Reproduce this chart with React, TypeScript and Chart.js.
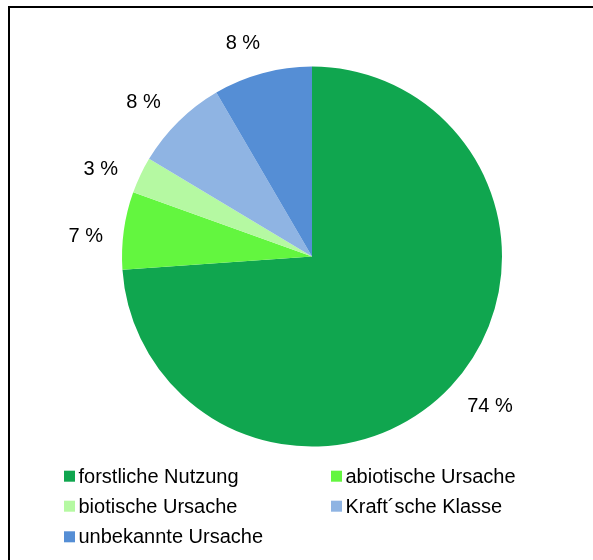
import React, { useEffect, useRef } from "react";
import { Chart, registerables } from "chart.js";

Chart.register(...registerables);

const categories = [
  "forstliche Nutzung",
  "abiotische Ursache",
  "biotische Ursache",
  "Kraft´sche Klasse",
  "unbekannte Ursache",
];
const shares = [73.9, 6.6, 3.1, 8.0, 8.4];
const colors = ["#10A64F", "#63F63F", "#B5F9A2", "#8FB4E3", "#558ED5"];

const FONT = '20px "Liberation Sans", Arial, sans-serif';

const sliceLabels = {
  id: "sliceLabels",
  afterDatasetsDraw(chart: any) {
    const ctx = chart.ctx;
    const meta = chart.getDatasetMeta(0);
    const data = chart.data.datasets[0].data as number[];
    ctx.save();
    ctx.font = FONT;
    ctx.fillStyle = "#000";
    ctx.textAlign = "center";
    ctx.textBaseline = "middle";
    meta.data.forEach((arc: any, i: number) => {
      const p = arc.getProps(["x", "y", "startAngle", "endAngle", "outerRadius"], true);
      const mid = (p.startAngle + p.endAngle) / 2 - 0.05;
      const dx = Math.cos(mid);
      const dy = Math.sin(mid);
      const text = `${Math.round(data[i])} %`;
      const w = ctx.measureText(text).width;
      const h = 20;
      const gap = 19;
      const d = p.outerRadius + gap + (Math.abs(dx) * w) / 2 + (Math.abs(dy) * h) / 2;
      ctx.fillText(text, p.x + dx * d, p.y + dy * d);
    });
    ctx.restore();
  },
};

const gridLegend = {
  id: "gridLegend",
  afterDraw(chart: any) {
    const ctx = chart.ctx;
    const cols = [64, 331];
    const baselines = [482.7, 512.7, 543.3];
    ctx.save();
    ctx.font = FONT;
    ctx.textAlign = "left";
    ctx.textBaseline = "alphabetic";
    categories.forEach((label, i) => {
      const col = i % 2;
      const row = Math.floor(i / 2);
      const x = cols[col];
      const base = baselines[row];
      ctx.fillStyle = colors[i];
      ctx.fillRect(x, base - 12, 11, 11);
      ctx.fillStyle = "#000";
      ctx.fillText(label, x + 14.5, base);
    });
    // frame: top and left edges only
    ctx.fillStyle = "#000";
    ctx.fillRect(8, 6, 585, 2);
    ctx.fillRect(8, 6, 2, 554);
    ctx.restore();
  },
};

export default function App() {
  const ref = useRef<HTMLCanvasElement | null>(null);
  useEffect(() => {
    document.body.style.margin = "0";
    document.body.style.overflow = "hidden";
    document.documentElement.style.overflow = "hidden";
    const canvas = ref.current;
    if (!canvas) return;
    const chart = new Chart(canvas, {
      type: "pie",
      data: {
        labels: categories,
        datasets: [
          {
            data: shares,
            backgroundColor: colors,
            borderWidth: 0,
          },
        ],
      },
      options: {
        animation: false,
        responsive: false,
        maintainAspectRatio: false,
        layout: { padding: { top: 66.6, bottom: 113.4, left: 31, right: 0 } },
        plugins: {
          legend: { display: false },
          tooltip: { enabled: false },
        },
      },
      plugins: [sliceLabels, gridLegend],
    });
    return () => chart.destroy();
  }, []);
  return (
    <div style={{ width: 593, height: 560, overflow: "hidden", background: "#fff" }}>
      <canvas ref={ref} width={593} height={560} style={{ display: "block" }} />
    </div>
  );
}
